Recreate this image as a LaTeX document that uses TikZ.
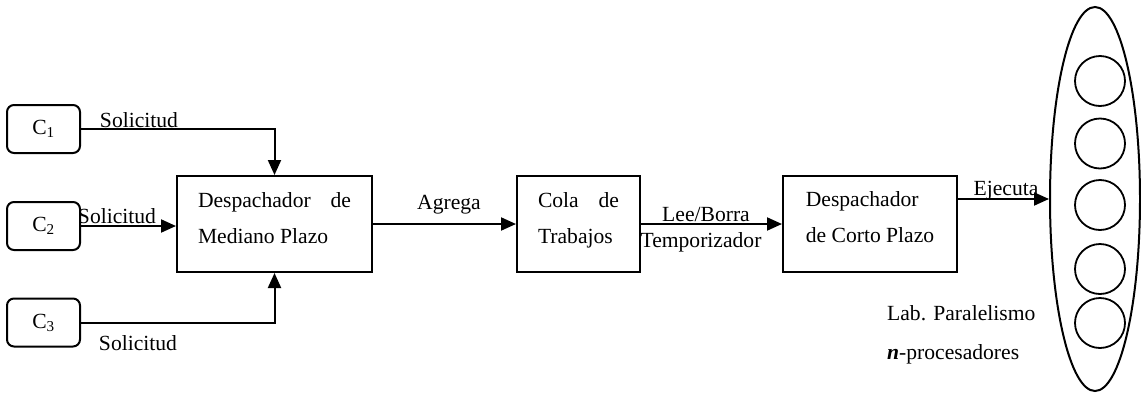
\documentclass[tikz,border=0pt]{standalone}
\usepackage{fontspec}
\setmainfont{Liberation Serif}
\usetikzlibrary{arrows.meta,shapes.geometric}

\begin{document}
\begin{tikzpicture}[x=1pt, y=-1pt,
    every node/.style={font=\fontsize{21.6}{36}\selectfont},
    client/.style={draw, rectangle, rounded corners=7pt, line width=2pt, minimum width=73pt, minimum height=48pt, inner sep=0pt},
    stage/.style={draw, rectangle, line width=2pt, minimum height=96pt, align=left, inner sep=0pt, text height=50pt, text depth=12pt},
    cpu/.style={draw, circle, line width=1.8pt, minimum size=50pt, inner sep=0pt},
    flow/.style={line width=2pt, -{Triangle[length=15pt, width=13pt]}}]
    \useasboundingbox (0,0) rectangle (1141,394);

    % Clients
    \node[client] at (43.5,129) (c1) {C\textsubscript{1}};
    \node[client] at (43.5,226) (c2) {C\textsubscript{2}};
    \node[client] at (43.5,322.5) (c3) {C\textsubscript{3}};

    % Boxes
    \node[stage, minimum width=195pt] at (274.5,224) (dmp) {\makebox[153pt][l]{Despachador\hfill de}\\Mediano Plazo};
    \node[stage, minimum width=123pt] at (578.5,224) (cola) {\makebox[81pt][l]{Cola\hfill de}\\Trabajos};
    \node[stage, minimum width=174pt] at (870,223.5) (dcp) {Despachador\\de Corto Plazo};

    % Processors
    \node[draw, ellipse, line width=2pt, minimum width=90pt, minimum height=384pt, inner sep=0pt] at (1095,199) (lab) {};
    \foreach \y [count=\i] in {81,143.5,205,269,323}
        \node[cpu] at (1100,\y) (p\i) {};

    % Labels
    \node[anchor=base] at (139,127) (sol1) {Solicitud};
    \node[anchor=base] at (117,223) (sol2) {Solicitud};
    \node[anchor=base] at (138,350) (sol3) {Solicitud};
    \node[anchor=base] at (449,209) (agrega) {Agrega};
    \node[anchor=base] at (706,221) (lee) {Lee/Borra};
    \node[anchor=base] at (701,247) (temp) {Temporizador};
    \node[anchor=base] at (1006,195) (ejec) {Ejecuta};
    \node[anchor=base west, inner sep=0pt] at (887,320) (par) {Lab. Paralelismo};
    \node[anchor=base west, inner sep=0pt] at (887,359) (nproc) {\textit{\textbf{n}}-procesadores};

    % Arrows
    \draw[flow] (c1.east) -| (dmp.north);
    \draw[flow] (c2.east) -- (c2.east -| dmp.west);
    \draw[flow] (c3.east) -| (dmp.south);
    \draw[flow] (dmp.east) -- (cola.west);
    \draw[flow] (cola.east) -- (cola.east -| dcp.west);
    \draw[flow] ([yshift=24.5pt]dcp.east) -- (lab.west);
\end{tikzpicture}
\end{document}
